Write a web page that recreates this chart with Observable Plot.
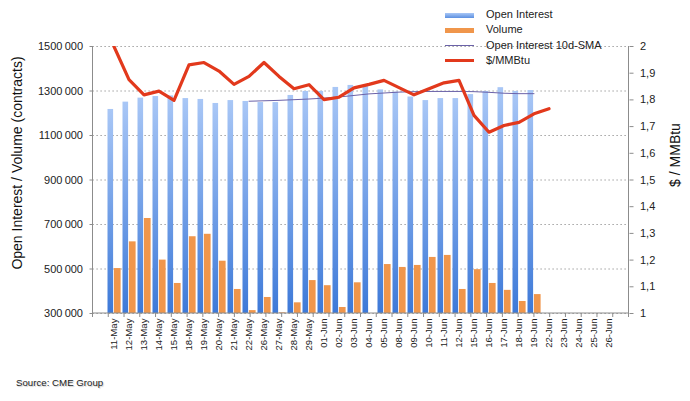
<!DOCTYPE html>
<html><head><meta charset="utf-8">
<script src="https://cdn.jsdelivr.net/npm/d3@7"></script>
<script src="https://cdn.jsdelivr.net/npm/@observablehq/plot@0.6"></script>
<style>
body{margin:0;background:#fff;font-family:"Liberation Sans",Arial,sans-serif;color:#222;}
#wrap{position:relative;width:690px;height:401px;overflow:hidden;}
#wrap svg{position:absolute;left:0;top:0;}
.legend{position:absolute;left:445px;top:7px;font-size:11px;color:#222;}
.legend .row{position:relative;height:15.3px;line-height:15.3px;}
.legend .sw{position:absolute;left:0;width:29px;}
.legend .tx{position:absolute;left:41px;white-space:nowrap;top:0;}
.rot{position:absolute;white-space:nowrap;transform:translate(-50%,-50%) rotate(-90deg);font-size:14px;color:#111;}
.src{position:absolute;left:16px;top:377px;font-size:9.7px;color:#222;text-shadow:1px 1px 1px #ccc;}
</style></head><body>
<div id="wrap"></div>
<script>
const dates = ["11-May","12-May","13-May","14-May","15-May","18-May","19-May","20-May","21-May","22-May","26-May","27-May","28-May","29-May","01-Jun","02-Jun","03-Jun","04-Jun","05-Jun","08-Jun","09-Jun","10-Jun","11-Jun","12-Jun","15-Jun","16-Jun","17-Jun","18-Jun","19-Jun","22-Jun","23-Jun","24-Jun","25-Jun","26-Jun"];
const openInterest = [1217000,1250000,1268000,1275000,1278000,1266000,1262000,1244000,1257000,1253000,1248000,1248000,1280000,1298000,1298000,1316000,1325000,1320000,1305000,1295000,1273000,1257000,1266000,1266000,1284000,1298000,1315000,1298000,1302000,null,null,null,null,null];
const volume = [502000,622000,727000,540000,435000,645000,656000,535000,408000,313000,372000,303000,348000,448000,425000,327000,438000,null,520000,507000,516000,552000,561000,408000,497000,435000,404000,354000,385000,null,null,null,null,null];
const oiSma = [null,null,null,null,null,null,null,null,null,1254000,1256000,1258000,1261000,1264000,1268000,1273000,1280000,1287000,1291000,1295000,1297000,1298000,1298000,1298000,1297000,1294000,1290000,1288000,1288000,null,null,null,null,null];
const price = [2.00,1.876,1.819,1.833,1.798,1.931,1.940,1.908,1.858,1.888,1.940,1.888,1.842,1.857,1.801,1.810,1.845,1.858,1.873,1.846,1.819,1.842,1.864,1.873,1.742,1.679,1.704,1.716,1.748,1.767,null,null,null,null];
const oiTicks = [300000,500000,700000,900000,1100000,1300000,1500000];
const priceTicks = [1,1.1,1.2,1.3,1.4,1.5,1.6,1.7,1.8,1.9,2];
const legendItems = ["Open Interest","Volume","Open Interest 10d-SMA","$/MMBtu"];

const rows = dates.map((d,i)=>({date:d, oi:openInterest[i], vol:volume[i], sma:oiSma[i], price:price[i]}));
// secondary axis mapped onto the primary scale
const py = d3.scaleLinear([1,2],[300000,1500000]);
const fmtOI = d => { const s = String(d); return s.slice(0,-3) + "\u2009" + s.slice(-3); };
const fmtPrice = d => String(Math.round(py.invert(d)*10)/10).replace(".",",");

const defsMark = () => {
  const defs = d3.create("svg:defs");
  const g = defs.append("linearGradient").attr("id","oiGrad").attr("x1",0).attr("y1",0).attr("x2",0).attr("y2",1);
  g.append("stop").attr("offset","0%").attr("stop-color","#a9c7f6");
  g.append("stop").attr("offset","100%").attr("stop-color","#3d79d8");
  return defs.node();
};
const frameMark = (index, scales, values, dims) => {
  const x0 = dims.marginLeft, x1 = dims.width - dims.marginRight;
  const y0 = dims.marginTop, y1 = dims.height - dims.marginBottom;
  const g = d3.create("svg:g").attr("stroke","#8c8c8c").attr("stroke-width",1).attr("fill","none");
  g.append("line").attr("x1",x0).attr("x2",x0).attr("y1",y0).attr("y2",y1);
  g.append("line").attr("x1",x1).attr("x2",x1).attr("y1",y0).attr("y2",y1);
  g.append("line").attr("x1",x0).attr("x2",x1).attr("y1",y1).attr("y2",y1);
  const bw = (x1 - x0) / dates.length;
  for (let i = 0; i <= dates.length; i++) {
    const xx = x0 + i*bw;
    g.append("line").attr("x1",xx).attr("x2",xx).attr("y1",y1).attr("y2",y1+4);
  }
  return g.node();
};

const chart = Plot.plot({
  width: 690, height: 401,
  marginLeft: 92.5, marginRight: 61.5, marginTop: 46, marginBottom: 88,
  style: {fontFamily: "'Liberation Sans', Arial, sans-serif", fontSize: "11px", color: "#222", background: "transparent"},
  x: {domain: dates, padding: 0, label: null},
  y: {domain: [300000, 1500000], label: null},
  marks: [
    defsMark,
    Plot.gridY(oiTicks, {stroke: "#8a8a8a", strokeOpacity: 1, strokeDasharray: "1.2,2.8"}),
    Plot.barY(rows.filter(d => d.oi != null), {x: "date", y1: 300000, y2: "oi", fill: "url(#oiGrad)", insetLeft: 1.5, insetRight: 7.9}),
    Plot.barY(rows.filter(d => d.vol != null), {x: "date", y1: 300000, y2: "vol", fill: "#f0964b", insetLeft: 7.9, insetRight: 0.4}),
    Plot.line(rows.filter(d => d.sma != null), {x: "date", y: "sma", stroke: "#6b62a8", strokeWidth: 1}),
    Plot.line(rows.filter(d => d.price != null), {x: "date", y: d => py(d.price), stroke: "#e2391c", strokeWidth: 3.2, clip: true}),
    frameMark,
    Plot.axisY(oiTicks, {anchor: "left", tickSize: 3, tickPadding: 7, tickFormat: fmtOI, fontSize: 11, stroke: "#8c8c8c", label: null}),
    Plot.axisY(priceTicks.map(v => py(v)), {anchor: "right", tickSize: 4, tickPadding: 7, tickFormat: fmtPrice, fontSize: 11, stroke: "#8c8c8c", label: null}),
    Plot.axisX({anchor: "bottom", tickRotate: -90, tickSize: 0, tickPadding: 5, fontSize: 9.6, label: null})
  ]
});

const wrap = document.getElementById("wrap");
wrap.appendChild(chart);

// legend
const swatches = [
  {top: 5.5, h: 5, bg: "linear-gradient(#a9c7f6,#5b8fe0)"},
  {top: 5.5, h: 5, bg: "#f0964b"},
  {top: 7.2, h: 1, bg: "#6b62a8"},
  {top: 6, h: 3.2, bg: "#e2391c"}
];
const leg = document.createElement("div");
leg.className = "legend";
legendItems.forEach((t,i) => {
  const r = document.createElement("div"); r.className = "row";
  const s = document.createElement("div"); s.className = "sw";
  s.style.top = swatches[i].top + "px"; s.style.height = swatches[i].h + "px"; s.style.background = swatches[i].bg;
  const tx = document.createElement("div"); tx.className = "tx"; tx.textContent = t;
  r.appendChild(s); r.appendChild(tx); leg.appendChild(r);
});
wrap.appendChild(leg);

const t1 = document.createElement("div"); t1.className = "rot";
t1.textContent = "Open Interest / Volume (contracts)";
t1.style.left = "17px"; t1.style.top = "163px";
wrap.appendChild(t1);
const t2 = document.createElement("div"); t2.className = "rot";
t2.textContent = "$ / MMBtu";
t2.style.left = "675px"; t2.style.top = "155px";
wrap.appendChild(t2);
const src = document.createElement("div"); src.className = "src";
src.textContent = "Source: CME Group";
wrap.appendChild(src);
</script>
</body></html>
